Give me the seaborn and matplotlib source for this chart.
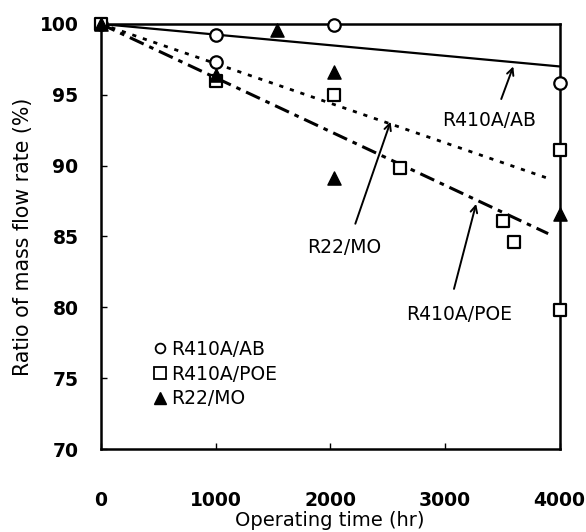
import matplotlib
matplotlib.use("Agg")
import matplotlib.pyplot as plt
from matplotlib.lines import Line2D
import seaborn as sns
import pandas as pd

# ---- data ----
ab_x = [0, 1000, 1000, 2030, 4000]
ab_y = [100, 99.2, 97.3, 99.9, 95.8]
poe_x = [0, 1000, 2030, 2610, 3510, 3600, 4000, 4000]
poe_y = [100, 96.0, 95.0, 89.8, 86.1, 84.6, 91.1, 79.8]
mo_x = [0, 1000, 1540, 2030, 2030, 4000]
mo_y = [100, 96.4, 99.6, 96.6, 89.1, 86.6]

ab_fit_x = [0, 4000]
ab_fit_y = [100, 97.0]
mo_fit_x = [0, 3900]
mo_fit_y = [100, 89.1]
poe_fit_x = [0, 3900]
poe_fit_y = [100, 85.2]

x_ticks = [0, 1000, 2000, 3000, 4000]
y_ticks = [70, 75, 80, 85, 90, 95, 100]

sns.set_style("ticks")
plt.rcParams['font.family'] = ['DejaVu Sans']
plt.rcParams.update({'text.color': 'black', 'axes.labelcolor': 'black',
                     'xtick.color': 'black', 'ytick.color': 'black'})

fig = plt.figure(figsize=(5.86, 5.32), dpi=100)
ax = fig.add_axes([0.172, 0.156, 0.783, 0.799])

# fit lines
sns.lineplot(x=ab_fit_x, y=ab_fit_y, ax=ax, color='black', lw=1.6, linestyle='-')
sns.lineplot(x=mo_fit_x, y=mo_fit_y, ax=ax, color='black', lw=2.0, linestyle=(0, (1.5, 2.5)))
sns.lineplot(x=poe_fit_x, y=poe_fit_y, ax=ax, color='black', lw=2.2, linestyle=(0, (5, 2, 1.5, 2)))

ms = 80
sns.scatterplot(x=ab_x, y=ab_y, ax=ax, marker='o', s=ms, facecolor='white',
                edgecolor='black', linewidth=1.6, clip_on=False, zorder=5)
sns.scatterplot(x=poe_x, y=poe_y, ax=ax, marker='s', s=ms, facecolor='white',
                edgecolor='black', linewidth=1.6, clip_on=False, zorder=5)
sns.scatterplot(x=mo_x, y=mo_y, ax=ax, marker='^', s=ms + 10, color='black',
                edgecolor='black', linewidth=1.0, clip_on=False, zorder=6)

ax.set_xlim(0, 4000)
ax.set_ylim(70, 100)
ax.set_xticks(x_ticks)
ax.set_yticks(y_ticks)
ax.tick_params(direction='in', length=4, width=1, top=False, right=False)
ax.tick_params(axis='x', pad=30, labelsize=13.5)
ax.tick_params(axis='y', pad=16, labelsize=13.5)
for lab in ax.get_xticklabels() + ax.get_yticklabels():
    lab.set_fontweight('bold')
for sp in ax.spines.values():
    sp.set_visible(True)
    sp.set_linewidth(1.8)
    sp.set_color('black')

ax.set_xlabel('Operating time (hr)', fontsize=14, labelpad=1)
ax.set_ylabel('Ratio of mass flow rate (%)', fontsize=14.8, labelpad=5)

fs = 13.5
arrowprops = dict(arrowstyle='->', color='black', lw=1.4, shrinkA=0, shrinkB=0,
                  mutation_scale=12)
ax.annotate('', xy=(3596, 97.0), xytext=(3491, 94.7), arrowprops=arrowprops)
ax.text(3386, 93.2, 'R410A/AB', ha='center', va='center', fontsize=fs)
ax.annotate('', xy=(2526, 93.1), xytext=(2219, 85.9), arrowprops=arrowprops)
ax.text(2123, 84.2, 'R22/MO', ha='center', va='center', fontsize=fs)
ax.annotate('', xy=(3272, 87.3), xytext=(3079, 81.3), arrowprops=arrowprops)
ax.text(3123, 79.5, 'R410A/POE', ha='center', va='center', fontsize=fs)

handles = [
    Line2D([], [], marker='o', ls='none', mfc='white', mec='black', mew=1.3, ms=7, label='R410A/AB'),
    Line2D([], [], marker='s', ls='none', mfc='white', mec='black', mew=1.3, ms=8, label='R410A/POE'),
    Line2D([], [], marker='^', ls='none', mfc='black', mec='black', ms=9, label='R22/MO'),
]
ax.legend(handles=handles, loc='lower left', bbox_to_anchor=(0.075, 0.065),
          frameon=False, fontsize=fs, handletextpad=0.0, labelspacing=0.3,
          handlelength=1.2, borderpad=0.2)

fig.savefig('out.png', dpi=100)
